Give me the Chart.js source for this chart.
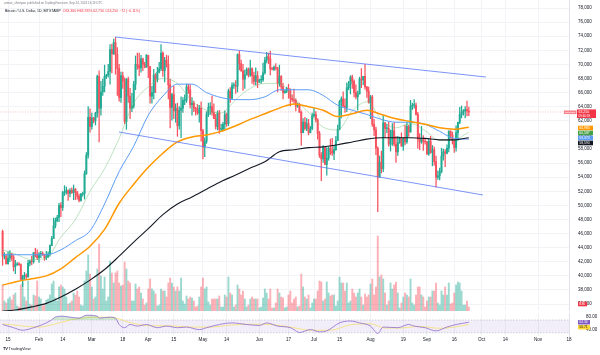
<!DOCTYPE html>
<html>
<head>
<meta charset="utf-8">
<script src="https://cdn.jsdelivr.net/npm/chart.js@4.4.1/dist/chart.umd.min.js"></script>
<style>
html,body{margin:0;padding:0;background:#fff;}
body{width:600px;height:355px;overflow:hidden;position:relative;font-family:"Liberation Sans",Arial,sans-serif;}
canvas{position:absolute;left:0;}
#price{top:0;}
#rsi{top:311px;}
.t1{position:absolute;left:4px;top:2px;font-size:3px;color:#787b86;white-space:nowrap;line-height:1;}
.t2{position:absolute;left:5px;top:10px;font-size:3.5px;color:#131722;white-space:nowrap;line-height:1;}
.t2 .v{color:#f23645;}
.logo{position:absolute;left:3px;top:347px;font-size:4px;color:#131722;white-space:nowrap;line-height:1;}
.logo b{font-weight:900;letter-spacing:-0.3px;}
</style>
</head>
<body>
<canvas id="price" width="600" height="311"></canvas>
<canvas id="rsi" width="600" height="44"></canvas>
<div class="t1">arman_shirinyan published on TradingView.com, Sep 24, 2024 14:19 UTC</div>
<div class="t2">Bitcoin / U.S. Dollar, 1D, BITSTAMP&nbsp; <span class="v">O63,360 H63,939 L62,730 C63,250 −72 (−0.11%)</span></div>
<div class="logo"><b>TV</b> TradingView</div>
<script>
// ---- daily candles, Jan 12 2024 .. Sep 24 2024 (prices in thousands USD) ----
const opens = [
46.3,42.8,42.8,41.7,42.5,43.1,42.7, 41.3,41.6,41.7,41.6,39.5,39.9,40.1, 39.9,41.8,42.1,42.0,43.3,42.9,42.6,
43.1,43.2,43.0,42.6,42.7,43.1,44.3, 45.3,47.1,47.8,48.3,50.0,49.7,51.8, 51.9,52.1,51.7,52.1,51.8,52.3,51.9,
51.3,50.7,51.6,51.7,54.5,57.1,62.5, 61.2,62.4,62.0,63.1,68.3,63.8,66.1, 66.9,68.3,68.5,69.0,72.1,71.5,73.1,
71.4,69.4,65.3,68.4,67.6,61.9,67.9, 65.5,63.8,64.1,67.2,70.0,69.9,69.5, 70.8,70.0,69.6,71.3,69.7,65.5,66.0,
68.5,67.9,68.9,69.4,71.6,69.1,70.6, 70.0,67.1,63.9,65.7,63.4,63.8,61.3, 63.5,63.8,64.9,64.9,66.8,66.4,64.3,
64.5,63.8,63.4,63.1,63.8,60.6,58.3, 59.1,62.9,63.9,64.0,63.2,62.3,61.2, 63.1,60.8,60.8,61.5,62.9,61.6,66.2,
65.2,67.0,67.0,66.9,71.4,70.1,69.1, 67.9,68.5,69.3,68.5,69.4,68.4,67.6, 68.4,67.5,67.8,67.8,68.8,70.6,71.1,
70.8,69.4,69.3,69.6,69.5,67.3,68.3, 66.8,66.0,66.2,66.6,66.5,65.2,65.0, 64.9,64.1,64.3,63.2,60.3,61.8,60.9,
61.6,60.3,60.9,62.7,62.9,62.1,60.2, 57.1,56.6,58.2,55.8,56.7,58.1,57.7, 57.4,57.9,59.2,60.8,64.7,65.1,64.1,
63.9,66.7,67.2,68.2,67.6,66.0,65.4, 65.8,67.9,67.8,68.3,66.8,66.2,64.6, 65.4,61.5,60.7,58.1,54.0,56.1,55.2,
61.7,60.9,60.9,58.7,59.4,60.6,58.7, 57.6,58.9,59.5,58.4,59.5,59.0,61.2, 60.4,64.1,64.2,64.2,62.9,59.4,59.0,
59.4,59.1,59.0,57.3,59.1,57.5,57.9, 56.2,54.0,54.2,54.8,57.0,57.6,57.4, 58.1,60.5,60.0,59.2,58.2,60.3,61.8,
62.9,63.2,63.4,63.6,63.36];
const highs = [
46.5,43.3,43.1,43.4,43.6,43.2,42.9, 42.2,41.9,41.9,41.7,40.1,40.5,40.3, 42.2,42.2,42.8,43.3,43.9,43.7,43.3,
43.5,43.4,43.1,43.5,43.4,44.4,45.6, 48.2,48.2,48.6,50.3,50.4,52.0,52.8, 52.6,52.2,52.4,52.5,52.9,52.4,52.0,
51.6,51.7,51.9,54.9,57.5,64.0,63.7, 63.1,62.5,63.2,68.5,69.1,67.6,67.9, 69.9,68.6,70.0,72.8,72.9,73.6,73.8,
72.4,70.0,68.9,68.9,68.1,68.0,68.2, 66.6,65.9,67.6,71.2,71.6,71.6,71.3, 70.9,70.3,71.4,71.3,69.7,66.9,69.3,
68.7,69.6,70.3,72.8,71.8,71.0,71.3, 71.2,67.9,65.9,66.9,64.4,64.5,64.0, 65.4,65.3,65.7,67.2,67.2,67.1,65.3,
64.8,63.9,64.3,64.2,64.7,60.8,59.6, 63.3,64.5,64.6,65.5,64.4,62.9,63.4, 63.5,61.5,61.8,63.4,63.1,66.5,66.7,
67.4,67.4,67.7,71.5,71.9,70.6,70.0, 69.2,69.5,69.5,70.6,69.5,68.9,69.5, 69.0,67.9,68.4,70.2,71.0,71.7,71.6,
71.9,69.6,69.8,70.1,69.6,69.9,68.4, 67.3,66.4,66.8,67.2,66.5,65.7,66.5, 65.1,64.5,64.5,63.4,62.3,62.5,62.3,
62.2,61.2,63.1,63.8,63.3,62.3,60.5, 57.5,58.5,58.3,58.2,58.3,59.4,59.5, 58.5,59.8,61.4,64.9,65.4,66.1,65.1,
67.4,67.6,68.4,68.5,67.8,67.1,66.2, 68.2,69.4,68.3,70.0,66.9,66.8,65.6, 65.6,62.2,61.1,58.3,57.0,57.7,62.7,
61.8,61.5,61.8,60.7,61.6,61.8,59.8, 59.8,59.7,60.3,59.6,61.4,61.8,61.4, 64.9,64.5,65.0,64.5,63.2,60.2,61.2,
59.9,59.4,59.1,59.4,59.8,58.5,58.3, 57.0,54.9,55.3,58.1,58.0,57.9,58.6, 60.6,60.6,60.4,59.2,61.3,61.8,63.9,
64.1,63.6,64.0,64.8,63.94];
const lows = [
41.5,42.4,41.7,41.7,42.0,42.2,40.7, 40.3,41.5,41.5,39.5,38.5,39.5,39.5, 39.8,41.4,41.6,41.8,42.7,42.3,41.9,
42.6,42.9,42.2,42.3,42.6,42.8,44.3, 45.3,46.8,47.7,47.7,48.4,49.3,51.4, 51.6,50.7,51.2,51.7,50.8,50.8,50.9,
50.5,50.6,51.3,50.9,54.4,56.7,60.4, 60.8,61.7,61.4,62.5,59.0,62.8,65.6, 66.1,68.0,68.2,67.2,68.8,71.4,68.6,
65.6,64.8,64.6,66.6,61.6,60.8,64.6, 62.3,63.3,63.8,66.4,69.3,68.4,68.9, 69.1,69.5,69.6,68.1,64.5,64.5,65.1,
66.0,67.5,68.8,69.1,68.3,67.5,69.6, 65.1,61.0,62.1,62.3,61.8,59.8,60.8, 59.6,63.2,64.3,64.6,65.9,63.8,62.8,
63.3,62.8,62.9,61.8,59.1,56.6,56.9, 58.8,62.6,62.9,62.8,62.3,60.8,60.7, 60.2,60.5,60.6,60.8,61.2,61.3,64.6,
65.1,66.6,65.9,66.1,69.2,69.0,66.3, 66.6,68.5,68.2,68.3,67.3,67.1,67.1, 66.7,67.4,67.3,67.6,68.6,70.2,70.1,
68.5,69.2,69.1,69.2,66.1,66.9,66.3, 65.1,65.9,66.0,65.2,64.1,64.7,64.5, 63.4,63.9,63.2,58.5,60.3,60.7,60.6,
60.0,60.3,60.7,62.5,61.8,59.4,56.8, 53.5,56.1,55.8,54.3,56.4,57.2,57.1, 56.5,57.8,59.2,60.7,62.4,64.0,63.2,
63.3,66.4,65.8,66.6,65.4,65.1,63.5, 65.8,66.7,67.1,66.5,65.3,64.5,62.3, 61.2,59.9,57.2,49.1,54.0,54.6,54.8,
59.6,60.3,58.4,57.7,58.5,58.4,56.1, 57.1,58.8,58.4,57.8,58.6,58.8,59.8, 60.4,63.6,63.8,62.8,58.1,57.9,58.8,
57.8,58.7,57.2,57.1,57.4,55.6,55.7, 52.6,53.7,53.6,54.6,56.4,55.5,57.3, 57.6,59.5,58.7,57.5,57.7,59.2,61.6,
62.4,62.8,62.4,62.7,62.73];
const closes = [
42.8,42.8,41.7,42.5,43.1,42.7,41.3, 41.6,41.7,41.6,39.5,39.9,40.1,39.9, 41.8,42.1,42.0,43.3,42.9,42.6,43.1,
43.2,43.0,42.6,42.7,43.1,44.3,45.3, 47.1,47.8,48.3,50.0,49.7,51.8,51.9, 52.1,51.7,52.1,51.8,52.3,51.9,51.3,
50.7,51.6,51.7,54.5,57.1,62.5,61.2, 62.4,62.0,63.1,68.3,63.8,66.1,66.9, 68.3,68.5,69.0,72.1,71.5,73.1,71.4,
69.4,65.3,68.4,67.6,61.9,67.9,65.5, 63.8,64.1,67.2,70.0,69.9,69.5,70.8, 70.0,69.6,71.3,69.7,65.5,66.0,68.5,
67.9,68.9,69.4,71.6,69.1,70.6,70.0, 67.1,63.9,65.7,63.4,63.8,61.3,63.5, 63.8,64.9,64.9,66.8,66.4,64.3,64.5,
63.8,63.4,63.1,63.8,60.6,58.3,59.1, 62.9,63.9,64.0,63.2,62.3,61.2,63.1, 60.8,60.8,61.5,62.9,61.6,66.2,65.2,
67.0,67.0,66.9,71.4,70.1,69.1,67.9, 68.5,69.3,68.5,69.4,68.4,67.6,68.4, 67.5,67.8,67.8,68.8,70.6,71.1,70.8,
69.4,69.3,69.6,69.5,67.3,68.3,66.8, 66.0,66.2,66.6,66.5,65.2,65.0,64.9, 64.1,64.3,63.2,60.3,61.8,60.9,61.6,
60.3,60.9,62.7,62.9,62.1,60.2,57.1, 56.6,58.2,55.8,56.7,58.1,57.7,57.4, 57.9,59.2,60.8,64.7,65.1,64.1,63.9,
66.7,67.2,68.2,67.6,66.0,65.4,65.8, 67.9,67.8,68.3,66.8,66.2,64.6,65.4, 61.5,60.7,58.1,54.0,56.1,55.2,61.7,
60.9,60.9,58.7,59.4,60.6,58.7,57.6, 58.9,59.5,58.4,59.5,59.0,61.2,60.4, 64.1,64.2,64.2,62.9,59.4,59.0,59.4,
59.1,59.0,57.3,59.1,57.5,57.9,56.2, 54.0,54.2,54.8,57.0,57.6,57.4,58.1, 60.5,60.0,59.2,58.2,60.3,61.8,62.9,
63.2,63.4,63.6,63.4,63.25];
// volume (hundreds of BTC, estimated)
const volumes = [
26,10,8,12,14,11,16, 18,5,4,26,28,14,10, 30,7,6,16,15,30,14,
12,5,6,11,12,16,27, 30,13,10,24,26,24,22, 14,7,8,10,18,16,20,
14,6,5,30,40,56,37, 24,12,14,42,67,35,22, 34,10,14,50,38,28,38,
40,28,25,26,49,42,30, 28,10,10,27,22,24,18, 12,6,8,22,32,22,20,
17,5,6,22,20,20,14, 28,33,28,24,20,24,20, 33,10,7,15,12,14,13,
10,4,5,14,24,33,22, 24,9,6,12,12,12,12, 15,4,4,16,14,34,18,
16,4,6,26,22,16,20, 12,4,6,12,14,12,12, 12,3,4,13,22,18,12,
22,3,3,8,22,18,14, 13,3,4,16,20,8,12, 14,4,5,37,24,14,12,
16,3,8,12,12,20,30, 29,10,12,29,18,15,16, 16,5,10,34,28,28,20,
28,8,10,22,18,14,18, 22,14,6,17,14,16,27, 32,16,24,75,34,36,32,
18,6,10,28,22,26,29, 18,3,8,14,18,16,14, 32,8,6,16,24,24,16,
14,4,10,14,14,20,20, 28,8,6,20,16,24,16, 28,7,8,18,26,29,28,
20,6,6,10,4];

const maDays = [0,8,16,24,32,40,48,56,64,72,80,88,96,104,112,120,128,136,144,152,160,168,176,184,192,200,208,216,224,232,240,248,256];
const ma20  = [43.7,43.0,42.3,42.5,45.5,48.0,52.0,55.2,59.5,64.5,66.8,68.0,67.3,64.8,63.5,63.1,65.0,66.6,67.3,67.3,65.2,63.2,61.1,60.7,63.4,64.7,62.2,61.0,61.6,60.6,59.2,59.3,60.4];
const ma50  = [43.0,43.0,43.0,43.0,43.7,45.0,46.4,50.2,54.8,58.4,62.8,65.5,67.2,67.2,66.0,65.3,65.0,65.0,65.4,66.4,66.4,66.4,65.6,64.2,63.5,62.9,62.2,61.8,61.8,61.5,60.5,59.5,59.4];
const ma100 = [38.7,39.2,39.6,40.0,41.0,42.6,44.2,46.6,50.3,53.0,55.4,57.4,59.0,59.7,60.0,60.5,61.3,62.2,63.0,63.8,64.4,64.0,63.5,62.6,63.0,63.5,62.9,62.3,61.9,61.5,61.0,60.8,61.1];
const ma200 = [35.0,35.2,35.6,36.1,37.0,38.1,39.4,40.9,42.8,44.8,46.7,48.7,50.2,51.2,52.3,53.4,54.3,55.3,56.2,57.6,57.9,58.2,58.3,58.6,59.0,59.4,59.6,59.6,59.6,59.5,59.3,59.3,59.6];

// descending channel (day index, price)
const channelUpper = [[61.7,73.89],[265.4,68.21]];
const channelLower = [[63.9,60.41],[263.7,51.48]];

const rsiDays = [0,6,11,17,22,26,29,33,37,42,46,52,53,59,62,64,67,70,74,79,85,90,96,101,108,112,119,126,134,141,145,151,158,160,163,169,174,178,185,191,196,202,206,209,217,223,226,232,238,244,249,256];
const rsiVals = [56,46,38,46,56,67,79,82,79,76,85,82,76,79,76,56,46,56,51,56,46,51,46,48,40,46,56,61,56,53,61,51,46,40,31,40,33,36,61,67,61,51,28,48,46,56,51,46,36,48,56,63];
const rsiMaDays = [0,10,20,29,37,45,53,62,70,81,92,103,114,125,136,147,158,169,180,191,202,210,218,229,240,248,256];
const rsiMaVals = [58,52,48,58,70,77,79,76,62,52,52,48,48,54,57,56,48,38,38,55,58,45,45,50,44,48,56];

// axis ticks
const priceTicks = [36,38,40,42,44,46,48,50,52,54,56,58,60,62,64,66,68,70,72,74,76,78];
const rsiTicks = [80,40];
const xTickDays = [3,20,33,49,66,80,94,110,123,141,157,171,185,202,220,233,248,263,276,294,311];
const xTickLabels = ['15','Feb','14','Mar','18','Apr','15','May','14','Jun','17','Jul','15','Aug','19','Sep','16','Oct','14','Nov','18'];

// right-axis tags
const maTags = [{v:60.98,t:'60,980',c:'#ff9800'},{v:60.59,t:'60,587',c:'#43a047'},{v:59.97,t:'59,373',c:'#5b9cf6'},{v:59.59,t:'58,590',c:'#131722'}];
const volTagText = '836';
const rsiTagText = '64.34', rsiMaTagText = '56.71';

// ---------------------------------------------------------------
const FONT = '"Liberation Sans", Arial, sans-serif';
Chart.defaults.font.family = FONT;
const X_MIN = -1.42, X_MAX = 311.0;
const P_MIN = 35.02, P_MAX = 79.135;
const UP = '#22ab94', DN = '#f7525f';
const UPV = 'rgba(34,171,148,0.45)', DNV = 'rgba(247,82,95,0.45)';
const GRID = '#f1f3f7';

const up = closes.map((c, i) => c >= opens[i]);
const pts = (xs, ys) => xs.map((x, i) => ({x, y: ys[i]}));
const noPad = s => { s.paddingTop = 0; s.paddingBottom = 0; s.paddingLeft = 0; s.paddingRight = 0; };

function tag(ctx, x, yc, w, h, bg, text, fg, fs) {
  ctx.fillStyle = bg;
  ctx.fillRect(x, yc - h / 2, w, h);
  ctx.fillStyle = fg;
  ctx.font = fs + 'px ' + FONT;
  ctx.textBaseline = 'middle';
  ctx.textAlign = 'left';
  ctx.fillText(text, x + 1.3, yc + 0.2);
}

const priceTags = {
  id: 'priceTags',
  afterDraw(chart) {
    const ctx = chart.ctx, ys = chart.scales.y, yv = chart.scales.yv;
    ctx.save();
    const last = closes.length - 1;
    const yp = ys.getPixelForValue(closes[last]);
    tag(ctx, 564, yp + 0.3, 12.5, 3.6, '#f7838c', 'BTCUSD', '#fff', 2.4);
    ctx.fillStyle = '#f23645';
    ctx.fillRect(577, yp - 2.6, 19, 8.6);
    ctx.fillStyle = '#fff';
    ctx.font = '3.5px ' + FONT;
    ctx.textBaseline = 'middle';
    ctx.textAlign = 'left';
    ctx.fillText((closes[last] * 1000).toLocaleString('en-US'), 578.5, yp);
    ctx.font = '3px ' + FONT;
    ctx.fillText('09:40:59', 578.5, yp + 3.8);
    let prev = -Infinity;
    maTags.forEach(m => {
      let y = ys.getPixelForValue(m.v);
      if (y < prev + 5) y = prev + 5;
      prev = y;
      tag(ctx, 578, y, 15, 4.6, m.c, m.t, '#fff', 3.4);
    });
    const yvv = yv.getPixelForValue(volumes[last]) - 3;
    tag(ctx, 578, yvv, 9, 4.6, '#f23645', volTagText, '#fff', 3.4);
    ctx.restore();
  }
};

const rsiTags = {
  id: 'rsiTags',
  afterDraw(chart) {
    const ctx = chart.ctx, ys = chart.scales.y;
    ctx.save();
    let y1 = ys.getPixelForValue(rsiVals[rsiVals.length - 1]);
    let y2 = ys.getPixelForValue(rsiMaVals[rsiMaVals.length - 1]);
    if (y2 < y1 + 5) y2 = y1 + 5;
    tag(ctx, 578, y1, 12, 4.4, '#7e57c2', rsiTagText, '#fff', 3.3);
    tag(ctx, 578, y2, 12, 4.4, '#fdd835', rsiMaTagText, '#131722', 3.3);
    ctx.restore();
  }
};

const lineDs = (data, color, width, order, extra) => Object.assign({
  type: 'line', data, borderColor: color, borderWidth: width, pointRadius: 0,
  cubicInterpolationMode: 'monotone', fill: false, order, yAxisID: 'y'
}, extra || {});

new Chart(document.getElementById('price'), {
  type: 'line',
  data: {
    datasets: [
      { type: 'bar', yAxisID: 'yv', order: 10, grouped: false, barThickness: 1.25,
        data: volumes.map((v, i) => ({x: i, y: v})),
        backgroundColor: up.map(u => u ? UPV : DNV), borderWidth: 0 },
      { type: 'bar', yAxisID: 'y', order: 7, grouped: false, barThickness: 0.6,
        data: lows.map((l, i) => ({x: i, y: [l, highs[i]]})),
        backgroundColor: up.map(u => u ? UP : DN), borderWidth: 0 },
      { type: 'bar', yAxisID: 'y', order: 6, grouped: false, barThickness: 1.3, minBarLength: 0.7,
        data: opens.map((o, i) => ({x: i, y: [o, closes[i]]})),
        backgroundColor: up.map(u => u ? UP : DN), borderWidth: 0 },
      lineDs(pts(maDays, ma200), '#131722', 1.1, 5),
      lineDs(pts(maDays, ma100), '#ff9800', 1.5, 5),
      lineDs(pts(maDays, ma50), '#5b9cf6', 1.0, 5),
      lineDs(pts(maDays, ma20), 'rgba(102,187,106,0.6)', 0.7, 5),
      lineDs(channelUpper.map(p => ({x: p[0], y: p[1]})), '#5a78f5', 0.8, 3, {cubicInterpolationMode: 'default', tension: 0}),
      lineDs(channelLower.map(p => ({x: p[0], y: p[1]})), '#5a78f5', 0.8, 3, {cubicInterpolationMode: 'default', tension: 0}),
      lineDs([{x: X_MIN, y: closes[closes.length - 1]}, {x: X_MAX, y: closes[closes.length - 1]}],
        'rgba(242,54,69,0.55)', 0.6, 1, {borderDash: [1, 1.5], tension: 0})
    ]
  },
  options: {
    responsive: false, animation: false, devicePixelRatio: 1, events: [],
    layout: {padding: 0, autoPadding: false},
    plugins: {legend: {display: false}, tooltip: {enabled: false}},
    scales: {
      x: { type: 'linear', min: X_MIN, max: X_MAX, offset: false,
        afterFit(s) { s.height = 0; noPad(s); },
        afterBuildTicks(s) { s.ticks = xTickDays.map(v => ({value: v})); },
        ticks: {display: false}, grid: {color: GRID, drawTicks: false, offset: false}, border: {display: false} },
      y: { position: 'right', min: P_MIN, max: P_MAX,
        afterFit(s) { s.width = 31; noPad(s); },
        afterBuildTicks(s) { s.ticks = priceTicks.map(v => ({value: v})); },
        ticks: { color: '#131722', padding: 9, font: {size: 4.5, family: FONT},
          callback: v => (v * 1000).toLocaleString('en-US') },
        grid: {color: GRID, drawTicks: false}, border: {display: true, color: '#e0e3eb', width: 1} },
      yv: { display: false, min: 0, max: 311, afterFit(s) { noPad(s); } }
    }
  },
  plugins: [priceTags]
});

new Chart(document.getElementById('rsi'), {
  type: 'line',
  data: {
    datasets: [
      { data: [{x: X_MIN, y: 70}, {x: X_MAX, y: 70}], borderColor: 'rgba(120,123,134,0.55)', borderWidth: 0.6,
        borderDash: [1.5, 1.5], pointRadius: 0, fill: '+1', backgroundColor: 'rgba(126,87,194,0.1)', order: 5 },
      { data: [{x: X_MIN, y: 30}, {x: X_MAX, y: 30}], borderColor: 'rgba(120,123,134,0.55)', borderWidth: 0.6,
        borderDash: [1.5, 1.5], pointRadius: 0, fill: false, order: 5 },
      { data: pts(rsiMaDays, rsiMaVals), borderColor: '#f5dc5a', borderWidth: 0.7, pointRadius: 0,
        cubicInterpolationMode: 'monotone', fill: false, order: 3 },
      { data: pts(rsiDays, rsiVals), borderColor: '#8e6ad0', borderWidth: 0.8, pointRadius: 0,
        cubicInterpolationMode: 'monotone', order: 2,
        fill: {target: {value: 70}, above: 'rgba(76,175,80,0.25)', below: 'rgba(0,0,0,0)'} }
    ]
  },
  options: {
    responsive: false, animation: false, devicePixelRatio: 1, events: [],
    layout: {padding: {top: 2, left: 0, right: 0, bottom: 0}, autoPadding: false},
    plugins: {legend: {display: false}, tooltip: {enabled: false}},
    scales: {
      x: { type: 'linear', min: X_MIN, max: X_MAX, offset: false,
        afterFit(s) { s.height = 19; noPad(s); },
        afterBuildTicks(s) { s.ticks = xTickDays.map(v => ({value: v})); },
        ticks: { color: '#131722', padding: 1.2, maxRotation: 0, autoSkip: false, font: {size: 4.6, family: FONT},
          callback: v => { const k = xTickDays.indexOf(v); return k >= 0 ? xTickLabels[k] : ''; } },
        grid: {color: GRID, drawTicks: false}, border: {display: false} },
      y: { position: 'right', min: 20, max: 92,
        afterFit(s) { s.width = 31; noPad(s); },
        afterBuildTicks(s) { s.ticks = rsiTicks.map(v => ({value: v})); },
        ticks: { color: '#131722', padding: 9, font: {size: 4.5, family: FONT}, callback: v => v.toFixed(2) },
        grid: {display: false}, border: {display: true, color: '#e0e3eb', width: 1} }
    }
  },
  plugins: [rsiTags]
});
</script>
</body>
</html>
